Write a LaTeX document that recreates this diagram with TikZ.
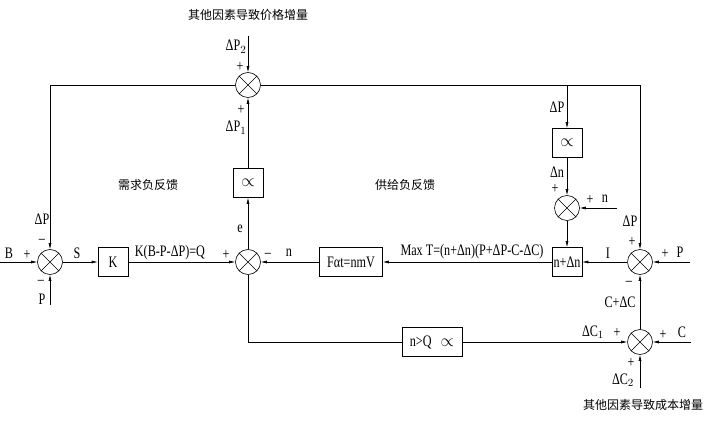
\documentclass[tikz,border=0pt]{standalone}
\usepackage{fontspec}
\setmainfont[FakeStretch=0.76]{Liberation Serif}
\newfontfamily\cjk{Noto Sans CJK SC}
\usetikzlibrary{arrows.meta}
\tikzset{
  sumj/.style={circle,draw,minimum size=25pt,inner sep=0pt,line width=0.6pt,
    path picture={\draw[line width=0.6pt] (path picture bounding box.north west)--(path picture bounding box.south east)
      (path picture bounding box.north east)--(path picture bounding box.south west);}},
  blk/.style={draw,line width=0.6pt,minimum width=30pt,minimum height=29pt,inner sep=1pt},
  wire/.style={line width=0.6pt},
  arr/.style={wire,-{Latex[length=6pt,width=3pt]}},
  lab/.style={inner sep=0pt,font=\fontsize{16}{17}\selectfont},
  zh/.style={inner sep=0pt,font=\cjk\fontsize{12}{13}\selectfont},
  prop/.style={font=\fontsize{16}{17}\selectfont}
}
\begin{document}
\begin{tikzpicture}[x=1pt,y=-1pt]
\useasboundingbox (0,0) rectangle (718,425);
% nodes
\node[sumj] (J1) at (50,262) {};
\node[blk,lab] (K) at (113,262) {K};
\node[sumj] (J2) at (248,262) {};
\node[blk,prop] (pr1) at (248,183) {$\propto$};
\node[sumj] (J3) at (248,85) {};
\node[blk,lab,minimum width=63pt] (Fa) at (351,262) {Fαt=nmV};
\node[blk,lab,inner sep=0pt] (nb) at (567,262) {n+Δn};
\node[sumj] (J5) at (567,208) {};
\node[blk,prop] (pr2) at (567,143) {$\propto$};
\node[sumj] (J4) at (640,262) {};
\node[sumj] (J6) at (640,342) {};
\node[blk,lab,minimum width=60pt] (nq) at (432,342) {n>Q\ \ \ $\propto$};
% free ends
\coordinate (Bin) at (0,262);
\coordinate (Pin) at (50,305);
\coordinate (cTL) at (50,85);
\coordinate (cTR) at (640,85);
\coordinate (cBr) at (567,85);
\coordinate (dP2) at (248,36);
\coordinate (nin) at (617,208);
\coordinate (Pin2) at (690,262);
\coordinate (Cin) at (691,342);
\coordinate (dC2) at (640,388);
\coordinate (cBL) at (248,342);
% connectors
\draw[arr] (Bin) -- (J1);
\draw[arr] (Pin) -- (J1);
\draw[arr] (J3) -- (cTL) -- (J1);
\draw[arr] (J1) -- (K);
\draw[arr] (K) -- (J2);
\draw[arr] (Fa) -- (J2);
\draw[arr] (J2) -- (pr1);
\draw[arr] (pr1) -- (J3);
\draw[arr] (dP2) -- (J3);
\draw[arr] (J3) -- (cTR) -- (J4);
\draw[arr] (cBr) -- (pr2);
\draw[arr] (pr2) -- (J5);
\draw[arr] (nin) -- (J5);
\draw[arr] (J5) -- (nb);
\draw[arr] (J4) -- (nb);
\draw[arr] (nb) -- (Fa);
\draw[arr] (Pin2) -- (J4);
\draw[arr] (J6) -- (J4);
\draw[arr] (Cin) -- (J6);
\draw[arr] (dC2) -- (J6);
\draw[wire] (J2) -- (cBL) -- (nq);
\draw[arr] (nq) -- (J6);
% labels
\node[lab] at (9,253) {B};
\node[lab] at (27,255) {+};
\node[lab] at (42,219) {ΔP};
\node[lab] at (42,241) {–};
\node[lab] at (41,282) {–};
\node[lab] at (42,299) {P};
\node[lab] at (77,253) {S};
\node[lab] at (170,253) {K(B-P-ΔP)=Q};
\node[lab] at (226,255) {+};
\node[lab] at (268,255) {–};
\node[lab] at (289,253) {n};
\node[lab] at (240,229) {e};
\node[lab] at (236,128) {ΔP$_1$};
\node[lab] at (241,110) {+};
\node[lab] at (240,67) {+};
\node[lab] at (236,47) {ΔP$_2$};
\node[zh] at (248,15) {其他因素导致价格增量};
\node[zh] at (148,185) {需求负反馈};
\node[zh] at (405,185) {供给负反馈};
\node[lab] at (472,252) {Max T=(n+Δn)(P+ΔP-C-ΔC)};
\node[lab] at (608,253) {I};
\node[lab] at (557,107) {ΔP};
\node[lab] at (557,172) {Δn};
\node[lab] at (555,189) {+};
\node[lab] at (590,200) {+};
\node[lab] at (605,199) {n};
\node[lab] at (630,221) {ΔP};
\node[lab] at (632,242) {+};
\node[lab] at (665,254) {+};
\node[lab] at (680,252) {P};
\node[lab] at (629,283) {–};
\node[lab] at (620,302) {C+ΔC};
\node[lab] at (593,332) {ΔC$_1$};
\node[lab] at (617,333) {+};
\node[lab] at (663,335) {+};
\node[lab] at (682,332) {C};
\node[lab] at (631,363) {+};
\node[lab] at (623,380) {ΔC$_2$};
\node[zh] at (643,405) {其他因素导致成本增量};
\end{tikzpicture}
\end{document}
